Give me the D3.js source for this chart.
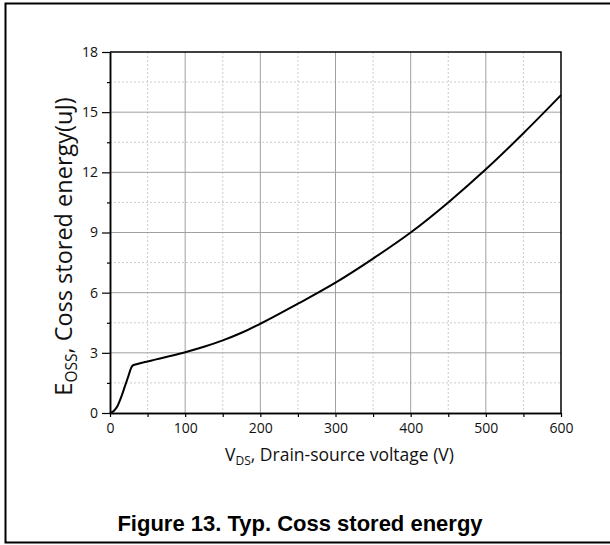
<!DOCTYPE html>
<html>
<head>
<meta charset="utf-8">
<script src="https://cdn.jsdelivr.net/npm/d3@7"></script>
<style>
  body { margin: 0; background: #fff; }
  svg { display: block; }
</style>
</head>
<body>
<div id="chart"></div>
<script>
// Curve
const voltage = [0, 5, 10, 15, 20, 25, 28, 30, 35, 40, 50, 60, 80, 100, 125, 150, 175, 200, 250, 300, 350, 400, 450, 500, 550, 600];
const energy  = [0, 0.1, 0.35, 0.8, 1.35, 1.9, 2.24, 2.36, 2.43, 2.48, 2.57, 2.66, 2.84, 3.03, 3.3, 3.62, 4.0, 4.45, 5.45, 6.5, 7.7, 9.0, 10.5, 12.15, 13.95, 15.85];

const xTicks = [0, 100, 200, 300, 400, 500, 600];
const xMinor = [50, 150, 250, 350, 450, 550];
const yTicks = [0, 3, 6, 9, 12, 15, 18];
const yMinor = [1.5, 4.5, 7.5, 10.5, 13.5, 16.5];

const data = voltage.map((v, i) => ({ v: v, e: energy[i] }));

const W = 610, H = 545;
const margin = { top: 52, right: 49, bottom: 132, left: 110 };
const width = W - margin.left - margin.right,
      height = H - margin.top - margin.bottom;

const root = d3.select("#chart").append("svg")
    .attr("width", W)
    .attr("height", H);

// outer frame (right side falls off the picture)
root.append("path")
    .attr("d", `M${W + 5},3.5 H5.5 V542.5 H${W + 5}`)
    .attr("fill", "none")
    .attr("stroke", "black")
    .attr("stroke-width", 2);

const svg = root.append("g")
    .attr("transform", `translate(${margin.left},${margin.top})`);

const x = d3.scaleLinear().domain([0, 600]).range([0, width]);
const y = d3.scaleLinear().domain([0, 18]).range([height, 0]);

// minor grid, dotted
svg.selectAll(".gx-minor").data(xMinor).enter().append("line")
    .attr("x1", d => x(d)).attr("x2", d => x(d))
    .attr("y1", 0).attr("y2", height)
    .attr("stroke", "#cccccc").attr("stroke-dasharray", "2,2");
svg.selectAll(".gy-minor").data(yMinor).enter().append("line")
    .attr("x1", 0).attr("x2", width)
    .attr("y1", d => y(d)).attr("y2", d => y(d))
    .attr("stroke", "#cccccc").attr("stroke-dasharray", "2,2");

// major grid, solid gray
svg.selectAll(".gx").data(xTicks.slice(1, -1)).enter().append("line")
    .attr("x1", d => x(d)).attr("x2", d => x(d))
    .attr("y1", 0).attr("y2", height)
    .attr("stroke", "#a0a0a0");
svg.selectAll(".gy").data(yTicks.slice(1, -1)).enter().append("line")
    .attr("x1", 0).attr("x2", width)
    .attr("y1", d => y(d)).attr("y2", d => y(d))
    .attr("stroke", "#a0a0a0");

// axes
const font = "'Open Sans', 'Noto Sans', sans-serif";

svg.append("g")
    .attr("transform", `translate(0,${height})`)
    .call(d3.axisBottom(x).tickValues(xTicks).tickSize(4).tickPadding(6).tickSizeOuter(0));
svg.append("g")
    .attr("transform", `translate(0,${height})`)
    .call(d3.axisBottom(x).tickValues(xMinor).tickSize(4).tickFormat("").tickSizeOuter(0));

svg.append("g")
    .call(d3.axisLeft(y).tickValues(yTicks).tickSize(8).tickPadding(4).tickSizeOuter(0));
svg.append("g")
    .call(d3.axisLeft(y).tickValues(yMinor).tickSize(3).tickFormat("").tickSizeOuter(0));

svg.selectAll(".domain").attr("stroke", "black").attr("stroke-width", 1.5);
svg.selectAll(".tick line").attr("stroke", "black").attr("stroke-width", 1.2);
svg.selectAll(".tick text")
    .style("font-family", font)
    .style("font-size", "14px")
    .attr("fill", "#111");

// top and right frame of the plot
svg.append("path")
    .attr("d", `M0,0 H${width} V${height}`)
    .attr("fill", "none")
    .attr("stroke", "black")
    .attr("stroke-width", 1.5);

// the curve
const line = d3.line()
    .x(d => x(d.v))
    .y(d => y(d.e))
    .curve(d3.curveMonotoneX);

svg.append("path")
    .datum(data)
    .attr("fill", "none")
    .attr("stroke", "black")
    .attr("stroke-width", 2)
    .attr("d", line);

// x-axis label
const xl = svg.append("text")
    .attr("x", width / 2 + 4)
    .attr("y", height + 48)
    .attr("text-anchor", "middle")
    .style("font-family", font)
    .style("font-size", "17.5px")
    .attr("fill", "#111");
xl.append("tspan").text("V");
xl.append("tspan").attr("dy", 4).style("font-size", "12px").text("DS");
xl.append("tspan").attr("dy", -4).text(", Drain-source voltage (V)");

// y-axis label
const yl = svg.append("text")
    .attr("transform", "rotate(-90)")
    .attr("x", -height / 2 - 14)
    .attr("y", -38)
    .attr("text-anchor", "middle")
    .style("font-family", font)
    .style("font-size", "23.5px")
    .attr("fill", "#111");
yl.append("tspan").text("E");
yl.append("tspan").attr("dy", 5).style("font-size", "15.5px").text("OSS");
yl.append("tspan").attr("dy", -5).text(", Coss stored energy(uJ)");

// caption
root.append("text")
    .attr("x", 300)
    .attr("y", 531)
    .attr("text-anchor", "middle")
    .style("font-family", "'Liberation Sans', Arial, sans-serif")
    .style("font-weight", "bold")
    .style("font-size", "22px")
    .text("Figure 13. Typ. Coss stored energy");
</script>
</body>
</html>
